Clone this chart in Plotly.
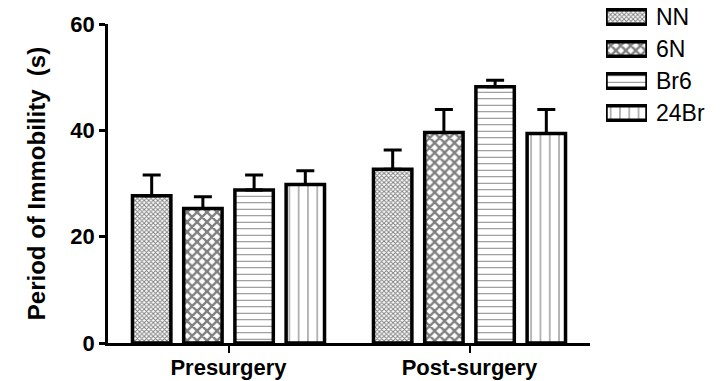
import plotly.graph_objects as go

# Forced-swim immobility by group, before and after surgery
categories = ["Presurgery", "Post-surgery"]
groups = ["NN", "6N", "Br6", "24Br"]
means = {
    "NN":   [27.7, 32.7],
    "6N":   [25.3, 39.6],
    "Br6":  [28.8, 48.2],
    "24Br": [29.8, 39.4],
}
sem = {
    "NN":   [3.9, 3.6],
    "6N":   [2.2, 4.3],
    "Br6":  [2.8, 1.2],
    "24Br": [2.6, 4.5],
}
y_ticks = [0, 20, 40, 60]

# fill pattern for each group (shape, cell size, ink fraction)
pat_shape = {"NN": "x", "6N": "x", "Br6": "-", "24Br": "|"}
pat_size = {"NN": 3.2, "6N": 7, "Br6": 6.5, "24Br": 9.3}
pat_solid = {"NN": 0.5, "6N": 0.55, "Br6": 0.15, "24Br": 0.12}

FONT = "Arial, Liberation Sans, sans-serif"
W, H = 726, 381
ML, MB = 108, 38
PAPER_W, PAPER_H = W - ML, H - MB


def px_x(x):
    return (x - ML) / PAPER_W


def px_y(y):
    return (H - MB - y) / PAPER_H


outline = dict(color="black", width=3.5)

fig = go.Figure()
for g in groups:
    fig.add_trace(go.Bar(
        name=g,
        x=categories,
        y=means[g],
        marker=dict(
            color="white",
            line=outline,
            pattern=dict(shape=pat_shape[g], size=pat_size[g], solidity=pat_solid[g],
                         fgcolor="black", bgcolor="white", fillmode="overlay"),
        ),
        error_y=dict(type="data", array=sem[g], arrayminus=[0] * len(sem[g]),
                     symmetric=False, color="black", thickness=3, width=9),
        showlegend=False,
    ))

# key: one patterned swatch per group on its own small axes
fig.add_trace(go.Bar(
    x=[1] * len(groups),
    y=groups,
    orientation="h",
    width=0.45,
    xaxis="x2", yaxis="y2",
    marker=dict(
        color="white",
        line=outline,
        pattern=dict(shape=[pat_shape[g] for g in groups],
                     size=[pat_size[g] for g in groups],
                     solidity=[pat_solid[g] for g in groups],
                     fgcolor="black", bgcolor="white", fillmode="overlay"),
    ),
    hoverinfo="skip",
    showlegend=False,
))

fig.update_layout(
    width=W, height=H,
    margin=dict(l=ML, r=0, t=0, b=MB, autoexpand=False),
    paper_bgcolor="white", plot_bgcolor="white",
    barmode="group", bargap=0.15, bargroupgap=0.25,
    font=dict(family=FONT, color="black"),
    xaxis=dict(
        domain=[0, px_x(590)],
        range=[-0.5, 1.5], showline=True, linecolor="black", linewidth=2.8,
        ticks="outside", ticklen=7, tickwidth=2, tickcolor="black",
        ticklabelstandoff=-4,
        tickfont=dict(size=22, family=FONT, weight="bold"), showgrid=False,
    ),
    yaxis=dict(
        domain=[0, px_y(24)],
        range=[0, 60], tickvals=y_ticks, showline=True, linecolor="black", linewidth=2.8,
        ticks="outside", ticklen=6, tickwidth=2.5, tickcolor="black",
        tickfont=dict(size=22, family=FONT, weight="bold"), showgrid=False, zeroline=False,
        title=dict(text="Period of Immobility  (s)",
                   font=dict(size=24, family=FONT, weight="bold"), standoff=18),
    ),
    xaxis2=dict(domain=[px_x(606), px_x(647)], range=[0, 1], anchor="y2",
                visible=False, fixedrange=True),
    yaxis2=dict(domain=[px_y(129), px_y(1)], anchor="x2", side="right",
                autorange="reversed", showline=False, showgrid=False, zeroline=False,
                ticks="", ticklabelstandoff=8,
                tickfont=dict(size=23, family=FONT), fixedrange=True),
)

fig.write_html("out.html")
